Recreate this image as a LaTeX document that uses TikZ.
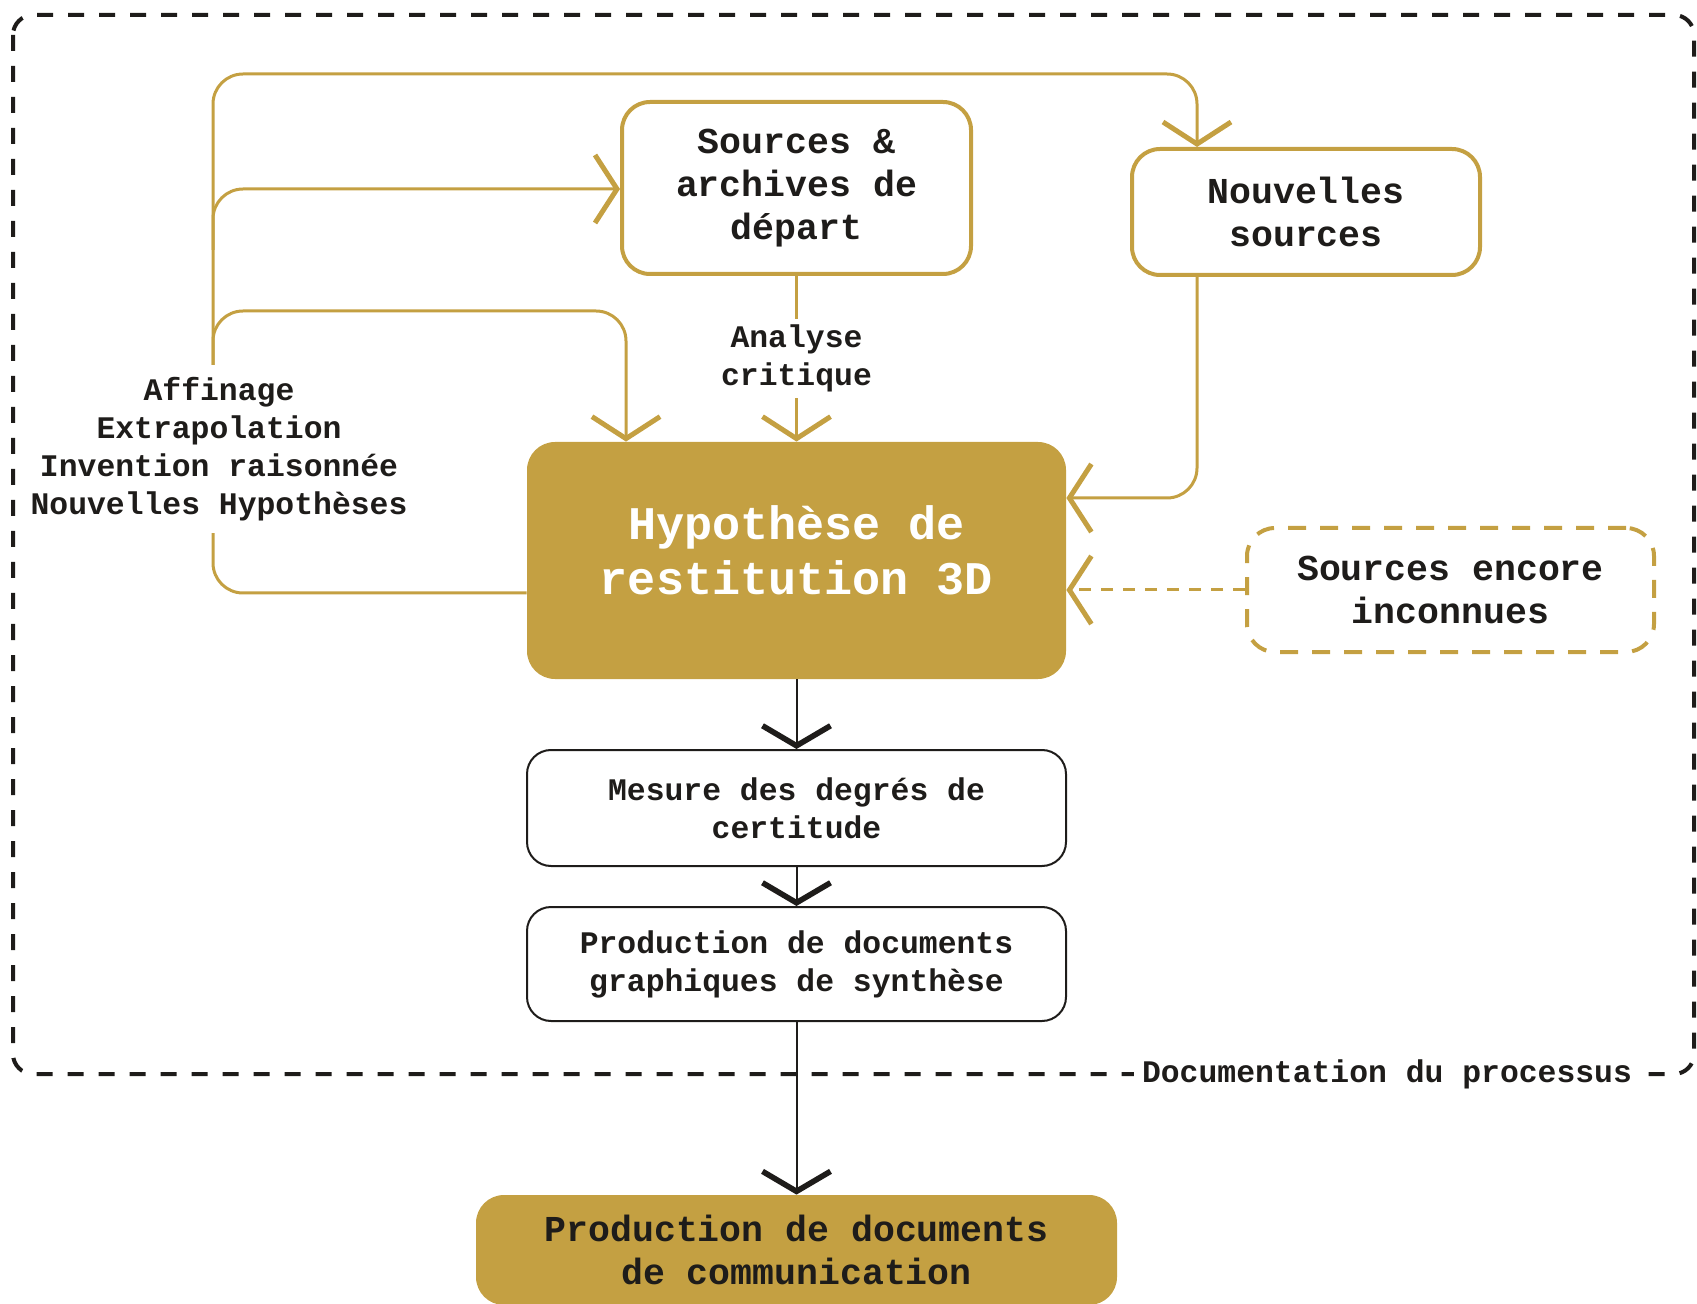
\documentclass[tikz,border=0pt]{standalone}
\usepackage{fontspec}
\setmainfont{Liberation Mono}
\usetikzlibrary{arrows.meta}
\definecolor{gold}{RGB}{196,160,66}
\definecolor{ink}{RGB}{30,28,26}
\begin{document}
\begin{tikzpicture}[x=0.5pt,y=-0.5pt,
  txtbig/.style={font=\fontsize{18.25}{21.5}\selectfont\bfseries},
  txtsmall/.style={font=\fontsize{15.7}{19}\selectfont\bfseries},
  goldbox/.style={draw=gold, line width=2pt, rounded corners=14pt, fill=white,
    align=center, inner sep=0pt, text=ink, txtbig},
  goldfill/.style={fill=gold, rounded corners=14pt, align=center, inner sep=0pt},
  blackbox/.style={draw=ink, line width=1pt, rounded corners=12pt, fill=white,
    align=center, inner sep=0pt, text=ink, txtsmall},
  lab/.style={fill=white, align=center, inner sep=3pt, text=ink, txtsmall},
  gline/.style={draw=gold, line width=1.5pt},
  gtip/.style={-{Straight Barb[length=11pt,width=34pt,line width=2.5pt]}},
  btip/.style={draw=ink, line width=1pt, -{Straight Barb[length=10pt,width=34pt,line width=2.8pt]}},
]
\useasboundingbox (0,0) rectangle (1697,1304);

% outer dashed frame
\draw[ink, line width=2pt, dash pattern=on 8pt off 7.5pt, rounded corners=10pt]
  (13,15) rectangle (1694,1074);
\node[fill=white, inner xsep=4pt, inner ysep=2pt, text=ink, txtsmall] (doc) at (1387,1074) {Documentation du processus};

% nodes
\node[goldbox, minimum width=174.5pt, minimum height=86pt] (src) at (796.5,188) {Sources \&\\archives de\\départ};
\node[goldbox, minimum width=174pt, minimum height=63pt] (nouv) at (1306,212) {Nouvelles\\sources};
\node[goldfill, minimum width=269.5pt, minimum height=118.5pt] (hyp) at (796.5,560.5) {};
\node[text=white, align=center, inner sep=0pt, font=\fontsize{23.4}{27.5}\selectfont\bfseries] (hyptxt) at (796.5,550.5) {Hypothèse de\\restitution 3D};
\node[goldbox, dash pattern=on 9pt off 7pt, minimum width=203.5pt, minimum height=62pt] (unk) at (1450.5,590) {Sources encore\\inconnues};
\node[blackbox, minimum width=269.5pt, minimum height=58pt] (mes) at (796.5,808) {Mesure des degrés de\\certitude};
\node[blackbox, minimum width=269.5pt, minimum height=57pt] (grp) at (796.5,964) {Production de documents\\graphiques de synthèse};
\node[goldfill, minimum width=320.5pt, minimum height=55pt, text=ink, txtbig] (com) at (796.5,1250) {Production de documents\\de communication};

% gold connectors
\draw[gline, gtip, rounded corners=15pt] (hyp.west |- 0,593) -- (213,593) -- (213,74) -- (1197,74) -- (nouv.north -| 1197,0);
\draw[gline, gtip, rounded corners=15pt] (213,250) -- (213,189) -- (src.west |- 0,189);
\draw[gline, gtip, rounded corners=15pt] (213,370) -- (213,311) -- (626,311) -- (hyp.north -| 626,0);
\draw[gline, gtip, rounded corners=15pt] (nouv.south -| 1197,0) -- (1197,498) -- (hyp.east |- 0,498);
\draw[gline, gtip] (src.south) -- node[lab] (ana) {Analyse\\critique} (hyp.north);
\draw[gline, gtip, dash pattern=on 6pt off 5pt] (unk.west) -- (hyp.east |- unk.west);
\node[lab, inner ysep=6pt] (aff) at (219,449) {Affinage\\Extrapolation\\Invention raisonnée\\Nouvelles Hypothèses};

% black connectors
\draw[btip] (hyp.south) -- (mes.north);
\draw[btip] (mes.south) -- (grp.north);
\draw[btip] (grp.south) -- (com.north);
\end{tikzpicture}
\end{document}
